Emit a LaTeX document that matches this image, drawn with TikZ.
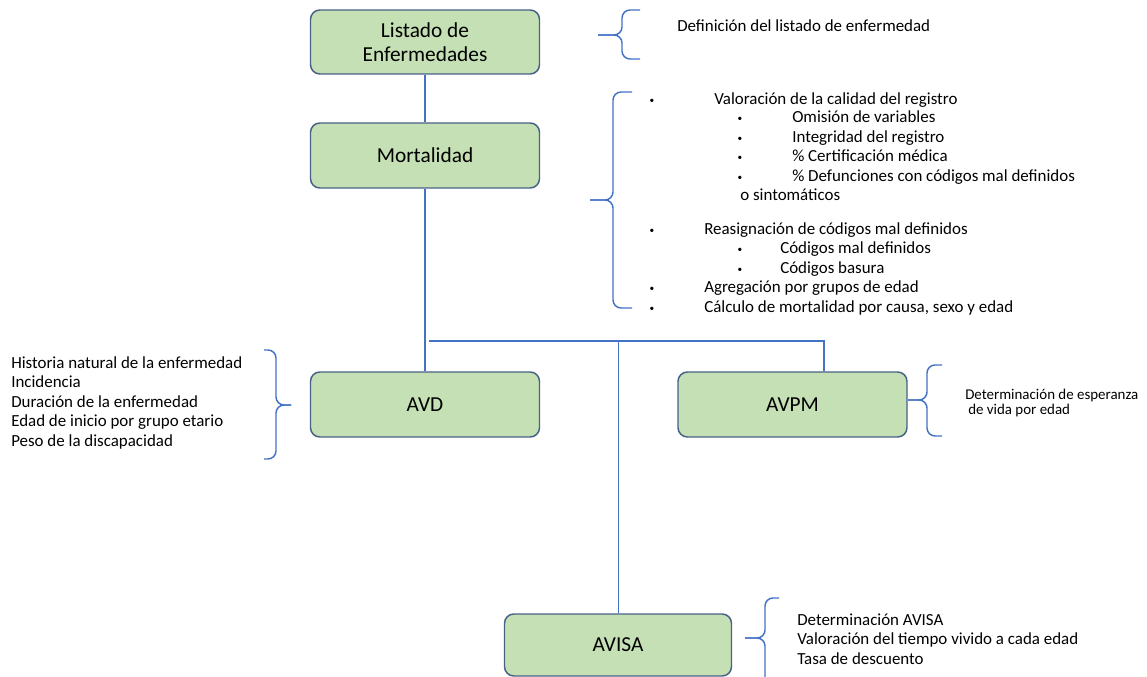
\documentclass[tikz,border=0pt]{standalone}
\usepackage{fontspec}
\setmainfont{Carlito}
\definecolor{boxfill}{RGB}{197,224,180}
\definecolor{boxdraw}{RGB}{72,98,135}
\definecolor{lineblue}{RGB}{68,114,196}
\begin{document}
\begin{tikzpicture}[x=0.75pt,y=-0.75pt,
  box/.style={draw=boxdraw, fill=boxfill, line width=1.1pt, rounded corners=7pt,
    minimum width={229*0.75pt}, minimum height={65*0.75pt}, align=center,
    font=\fontsize{16}{18}\selectfont, inner sep=0pt},
  conn/.style={draw=lineblue, line width=1.1pt},
  brace/.style={draw=lineblue, line width=1.1pt, rounded corners=6pt},
  txt/.style={anchor=west, inner sep=0pt, text height=9pt, text depth=2.5pt,
    font=\fontsize{12.7}{14}\selectfont},
  small/.style={anchor=west, inner sep=0pt, text height=8pt, text depth=2.2pt,
    font=\fontsize{11.2}{13}\selectfont},
  bul/.style={anchor=center, inner sep=0pt, font=\fontsize{7}{8}\selectfont}]
\useasboundingbox (0,0) rectangle (1147,677);

% boxes
\node[box, minimum height={64*0.75pt}] (list) at (425,42) {Listado de\\Enfermedades};
\node[box] (mort) at (425,155.5) {Mortalidad};
\node[box] (avd) at (425,404.5) {AVD};
\node[box] (avpm) at (792.5,404.5) {AVPM};
\node[box, minimum width={227*0.75pt}, minimum height={62*0.75pt}] (avisa) at (618,645) {AVISA};

% connectors
\coordinate (h1) at (429,341);
\coordinate (h2) at (824,341);
\coordinate (hv) at (618.7,341);
\draw[conn] (list.south) -- (mort.north);
\draw[conn] (mort.south) -- (avd.north);
\draw[conn] (h1) -- (h2) -- (h2 |- avpm.north);
\draw[conn] (hv) -- (hv |- avisa.north);

% braces
\draw[brace] (640,10) -- (622,10) -- (622,35) -- (598,35);
\draw[brace] (598,35) -- (622,35) -- (622,59) -- (640,59);
\draw[brace] (632,92) -- (613,92) -- (613,200) -- (590,200);
\draw[brace] (590,200) -- (613,200) -- (613,308) -- (632,308);
\draw[brace] (264,350) -- (276,350) -- (276,405) -- (291,405);
\draw[brace] (291,405) -- (276,405) -- (276,459) -- (264,459);
\draw[brace] (942,365) -- (927,365) -- (927,400) -- (908,400);
\draw[brace] (908,400) -- (927,400) -- (927,436) -- (942,436);
\draw[brace] (779,598) -- (765,598) -- (765,638) -- (745,638);
\draw[brace] (745,638) -- (765,638) -- (765,692) -- (779,692);

% listado text
\node[txt] (t0) at (677,27) {Definición del listado de enfermedad};

% mortalidad list
\node[bul] (b1) at (652,101) {•};
\node[txt] (m1) at (714,100) {Valoración de la calidad del registro};
\node[bul] (b2) at (740,119) {•};
\node[txt] (m2) at (792,118) {Omisión de variables};
\node[bul] (b3) at (740,139) {•};
\node[txt] (m3) at (792,138) {Integridad del registro};
\node[bul] (b4) at (740,158) {•};
\node[txt] (m4) at (792,157) {\% Certificación médica};
\node[bul] (b5) at (740,178) {•};
\node[txt] (m5) at (792,177) {\% Defunciones con códigos mal definidos};
\node[txt] (m6) at (740,196) {o sintomáticos};
\node[bul] (b7) at (652,231) {•};
\node[txt] (m7) at (704,230) {Reasignación de códigos mal definidos};
\node[bul] (b8) at (740,250) {•};
\node[txt] (m8) at (780,249) {Códigos mal definidos};
\node[bul] (b9) at (740,270) {•};
\node[txt] (m9) at (780,269) {Códigos basura};
\node[bul] (b10) at (652,289) {•};
\node[txt] (m10) at (704,288) {Agregación por grupos de edad};
\node[bul] (b11) at (652,309) {•};
\node[txt] (m11) at (704,308) {Cálculo de mortalidad por causa, sexo y edad};

% AVD list
\node[txt] (a1) at (11,364) {Historia natural de la enfermedad};
\node[txt] (a2) at (11,383) {Incidencia};
\node[txt] (a3) at (11,403) {Duración de la enfermedad};
\node[txt] (a4) at (11,422) {Edad de inicio por grupo etario};
\node[txt] (a5) at (11,442) {Peso de la discapacidad};

% AVPM text
\node[small] (p1) at (965,396) {Determinación de esperanza};
\node[small] (p2) at (968,411) {de vida por edad};

% AVISA list
\node[txt] (v1) at (797,621) {Determinación AVISA};
\node[txt] (v2) at (797,640) {Valoración del tiempo vivido a cada edad};
\node[txt] (v3) at (797,660) {Tasa de descuento};
\end{tikzpicture}
\end{document}
